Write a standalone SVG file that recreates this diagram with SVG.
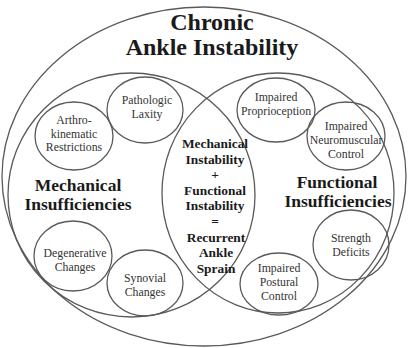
<svg xmlns="http://www.w3.org/2000/svg" width="408" height="348" viewBox="0 0 408 348">
<style>
.ln{fill:none;stroke:#5a5a5a;stroke-width:1.3}
text{font-family:'Liberation Serif','Times New Roman',Tinos,'DejaVu Serif',serif;text-anchor:middle}
.sm{font-size:11.8px;fill:#333}
.bd{font-weight:bold;fill:#1a1a1a}
.t1{font-size:24px}
.t2{font-size:17.5px}
.t3{font-size:13.4px}
</style>
<rect width="408" height="348" fill="#fff"/>
<g id="chronic-ankle-instability">
<ellipse class="ln" cx="204" cy="176.5" rx="202" ry="169.5"/>
<text class="bd t1" x="212" y="30">Chronic</text>
<text class="bd t1" x="212" y="55">Ankle Instability</text>
</g>
<g id="mechanical-insufficiencies">
<ellipse class="ln" cx="131.5" cy="195" rx="123.5" ry="122"/>
<text class="bd t2" x="78" y="191">Mechanical</text>
<text class="bd t2" x="78" y="210">Insufficiencies</text>
</g>
<g id="functional-insufficiencies">
<ellipse class="ln" cx="278" cy="193" rx="116" ry="120"/>
<text class="bd t2" x="337" y="188">Functional</text>
<text class="bd t2" x="338" y="207">Insufficiencies</text>
</g>
<g id="overlap">
<text class="bd t3" x="215" y="148">Mechanical</text>
<text class="bd t3" x="215" y="163.6">Instability</text>
<text class="bd t3" x="215" y="179.2">+</text>
<text class="bd t3" x="215" y="194.8">Functional</text>
<text class="bd t3" x="215" y="210.4">Instability</text>
<text class="bd t3" x="215" y="226">=</text>
<text class="bd t3" x="216" y="241.6">Recurrent</text>
<text class="bd t3" x="216" y="257.2">Ankle</text>
<text class="bd t3" x="216" y="272.8">Sprain</text>
</g>
<g id="pathologic-laxity">
<ellipse class="ln" cx="145" cy="110" rx="38" ry="33"/>
<text class="sm" x="147" y="104">Pathologic</text>
<text class="sm" x="147" y="118">Laxity</text>
</g>
<g id="arthrokinematic-restrictions">
<ellipse class="ln" cx="74" cy="136" rx="39" ry="34"/>
<text class="sm" x="74" y="124">Arthro-</text>
<text class="sm" x="74" y="137.5">kinematic</text>
<text class="sm" x="74" y="151">Restrictions</text>
</g>
<g id="impaired-proprioception">
<ellipse class="ln" cx="276" cy="110" rx="39" ry="32"/>
<text class="sm" x="276" y="101">Impaired</text>
<text class="sm" x="276" y="115">Proprioception</text>
</g>
<g id="impaired-neuromuscular-control">
<ellipse class="ln" cx="346" cy="136" rx="39" ry="34"/>
<text class="sm" x="346" y="130">Impaired</text>
<text class="sm" x="346" y="144">Neuromuscular</text>
<text class="sm" x="346" y="157.5">Control</text>
</g>
<g id="degenerative-changes">
<ellipse class="ln" cx="73" cy="256" rx="39" ry="35"/>
<text class="sm" x="75" y="257">Degenerative</text>
<text class="sm" x="75" y="271">Changes</text>
</g>
<g id="synovial-changes">
<ellipse class="ln" cx="145" cy="283" rx="38" ry="33"/>
<text class="sm" x="145" y="282">Synovial</text>
<text class="sm" x="145" y="296">Changes</text>
</g>
<g id="impaired-postural-control">
<ellipse class="ln" cx="279" cy="284" rx="39" ry="31"/>
<text class="sm" x="279" y="272">Impaired</text>
<text class="sm" x="279" y="286">Postural</text>
<text class="sm" x="279" y="300">Control</text>
</g>
<g id="strength-deficits">
<ellipse class="ln" cx="351" cy="245" rx="38" ry="35"/>
<text class="sm" x="351" y="242">Strength</text>
<text class="sm" x="351" y="256">Deficits</text>
</g>
<g id="connectors"></g>
</svg>
